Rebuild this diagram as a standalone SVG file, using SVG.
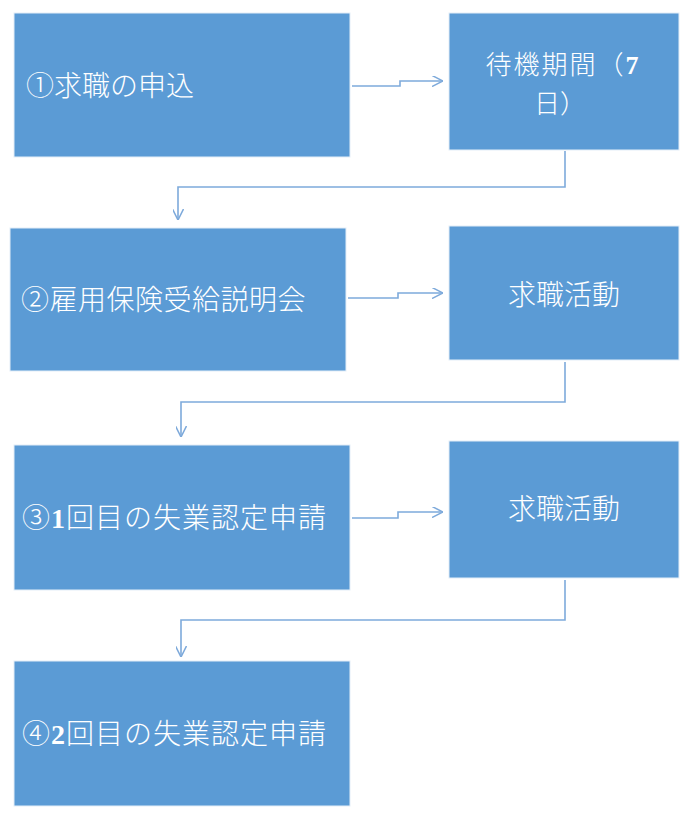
<svg xmlns="http://www.w3.org/2000/svg" width="698" height="819" viewBox="0 0 698 819">
<style>
.box{fill:#5B9BD5;stroke:#E4EEF8;stroke-width:1}
.t{fill:#FFFFFF;font-family:"Noto Sans CJK JP","Noto Sans",sans-serif;font-size:28px;font-weight:300}
.s{font-size:26px}
.d{font-family:"Liberation Serif",serif;font-weight:bold}
.c{fill:none;stroke:#7EAADB;stroke-width:1.6}
</style>
<defs>
<marker id="ah" viewBox="0 0 10 10" refX="10" refY="5" markerWidth="11" markerHeight="11" markerUnits="userSpaceOnUse" orient="auto">
<path d="M0,0 L10,5 L0,10" fill="none" stroke="#7EAADB" stroke-width="1.4"/>
</marker>
</defs>
<g id="connectors">
<path class="c" d="M352,86 H400 V81 H443" marker-end="url(#ah)"/>
<path class="c" d="M565,151 V187 H178 V220" marker-end="url(#ah)"/>
<path class="c" d="M348,298 H398 V293 H443" marker-end="url(#ah)"/>
<path class="c" d="M565,362 V402 H181 V437" marker-end="url(#ah)"/>
<path class="c" d="M352,518 H398 V512 H443" marker-end="url(#ah)"/>
<path class="c" d="M565,580 V620 H181 V657" marker-end="url(#ah)"/>
</g>
<g id="n1"><rect class="box" x="14" y="13" width="336" height="144"/><text class="t" x="26" y="96">①求職の申込</text></g>
<g id="n2"><rect class="box" x="449" y="13" width="230" height="137"/><text class="t s" x="563" y="74" text-anchor="middle" letter-spacing="2">待機期間（<tspan class="d">7</tspan></text><text class="t s" x="560" y="113" text-anchor="middle">日）</text></g>
<g id="n3"><rect class="box" x="10" y="228" width="336" height="143"/><text class="t" x="21" y="310" letter-spacing="0.5">②雇用保険受給説明会</text></g>
<g id="n4"><rect class="box" x="449" y="226" width="230" height="134"/><text class="t" x="564" y="305" text-anchor="middle">求職活動</text></g>
<g id="n5"><rect class="box" x="14" y="445" width="336" height="145"/><text class="t" x="22" y="528" letter-spacing="1">③<tspan class="d">1</tspan>回目の失業認定申請</text></g>
<g id="n6"><rect class="box" x="449" y="441" width="230" height="137"/><text class="t" x="564" y="519" text-anchor="middle">求職活動</text></g>
<g id="n7"><rect class="box" x="14" y="661" width="336" height="145"/><text class="t" x="22" y="744" letter-spacing="1">④<tspan class="d">2</tspan>回目の失業認定申請</text></g>
</svg>
